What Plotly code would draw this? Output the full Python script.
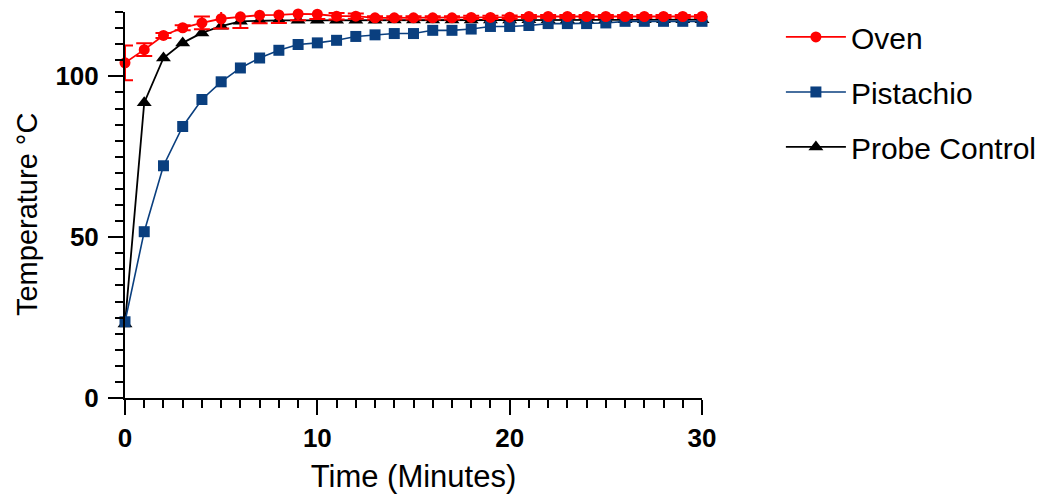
import plotly.graph_objects as go

time_min = list(range(0, 31))

oven = [104.2, 108.3, 112.7, 115.1, 116.6, 117.9, 118.5, 119.0, 119.1, 119.4, 119.3,
        118.7, 118.7, 118.2, 118.2, 118.2, 118.2, 118.2, 118.3, 118.3, 118.4,
        118.6, 118.6, 118.6, 118.6, 118.6, 118.6, 118.6, 118.6, 118.6, 118.6]
oven_err = [5.4, 2.0, 0.8, 0.8, 2.0, 3.0, 3.5, 2.5, 2.5, 2.0, 1.5,
            1.0, 0.8, 0.5, 0.5, 0.5, 0.5, 0.5, 0.5, 0.5, 0.5,
            0.5, 0.5, 0.5, 0.5, 0.5, 0.5, 0.5, 0.5, 0.5, 0.5]
pistachio = [23.7, 51.7, 72.2, 84.4, 92.8, 98.3, 102.6, 105.7, 108.1, 109.9, 110.4,
             111.2, 112.4, 112.9, 113.3, 113.3, 114.3, 114.3, 114.7, 115.5, 115.5,
             115.8, 116.4, 116.4, 116.4, 116.6, 117.1, 117.1, 117.1, 117.1, 117.1]
probe = [23.0, 91.8, 105.7, 110.4, 113.5, 115.6, 117.1, 117.3, 117.4, 117.4, 117.4,
         117.4, 117.4, 117.4, 117.5, 117.5, 117.5, 117.5, 117.5, 117.5, 117.5,
         117.6, 117.6, 117.6, 117.6, 117.6, 117.6, 117.6, 117.6, 117.6, 117.6]

x_ticks = [0, 10, 20, 30]
y_ticks = [0, 50, 100]
x_title = "Time (Minutes)"
y_title = "Temperature °C"

FONT = "Liberation Sans, Arial, sans-serif"
RED = "#FF0000"
BLUE = "#0A3F7F"
BLACK = "#000000"

fig = go.Figure()
fig.add_trace(go.Scatter(
    x=time_min, y=probe, mode="lines+markers", name="Probe Control",
    legendgroup="c", legendrank=3,
    line=dict(color=BLACK, width=1.8),
    marker=dict(symbol="triangle-up", size=13, color=BLACK),
    cliponaxis=False,
))
fig.add_trace(go.Scatter(
    x=time_min, y=pistachio, mode="lines+markers", name="Pistachio",
    legendgroup="b", legendrank=2,
    line=dict(color=BLUE, width=1.6),
    marker=dict(symbol="square", size=11, color=BLUE),
    cliponaxis=False,
))
fig.add_trace(go.Scatter(
    x=time_min, y=oven, mode="lines+markers", name="Oven",
    legendgroup="a", legendrank=1,
    line=dict(color=RED, width=1.8),
    marker=dict(symbol="circle", size=11, color=RED),
    error_y=dict(type="data", array=oven_err, visible=True, color=RED, thickness=2, width=8),
    cliponaxis=False,
))

fig.update_layout(
    width=1048, height=495,
    margin=dict(l=117, r=354, t=4, b=105, autoexpand=False),
    paper_bgcolor="white", plot_bgcolor="white",
    font=dict(family=FONT, color="black"),
    showlegend=True,
    legend=dict(
        xref="container", yref="container",
        x=0.7375, xanchor="left", y=0.994, yanchor="top",
        font=dict(size=30, family=FONT, color="black"),
        traceorder="grouped", tracegroupgap=13, itemwidth=60,
        bgcolor="rgba(0,0,0,0)",
    ),
    xaxis=dict(
        range=[0, 30], tickmode="array", tickvals=x_ticks, ticktext=[str(v) for v in x_ticks],
        automargin=False,
        showline=True, linecolor="black", linewidth=2, showgrid=False, zeroline=False,
        ticks="outside", ticklen=15, tickwidth=2, tickcolor="black",
        minor=dict(dtick=1, ticks="outside", ticklen=8, tickwidth=2, tickcolor="black", showgrid=False),
        tickfont=dict(size=26, family=FONT, color="black", weight="bold"),
        ticklabelstandoff=1,
        title=dict(text=x_title, font=dict(size=31, family=FONT, color="black"), standoff=13),
    ),
    yaxis=dict(
        range=[0, 120], tickmode="array", tickvals=y_ticks, ticktext=[str(v) for v in y_ticks],
        automargin=False,
        showline=True, linecolor="black", linewidth=2, showgrid=False, zeroline=False,
        ticks="outside", ticklen=15, tickwidth=2, tickcolor="black",
        minor=dict(dtick=5, ticks="outside", ticklen=8, tickwidth=2, tickcolor="black", showgrid=False),
        tickfont=dict(size=26, family=FONT, color="black", weight="bold"),
        ticklabelstandoff=4,
    ),
    annotations=[dict(
        text=y_title, textangle=-90, showarrow=False,
        xref="paper", yref="paper", x=0, y=0.474, xanchor="center", yanchor="middle",
        xshift=-98, font=dict(size=29, family=FONT, color="black"),
    )],
)

fig.write_html("out.html")
